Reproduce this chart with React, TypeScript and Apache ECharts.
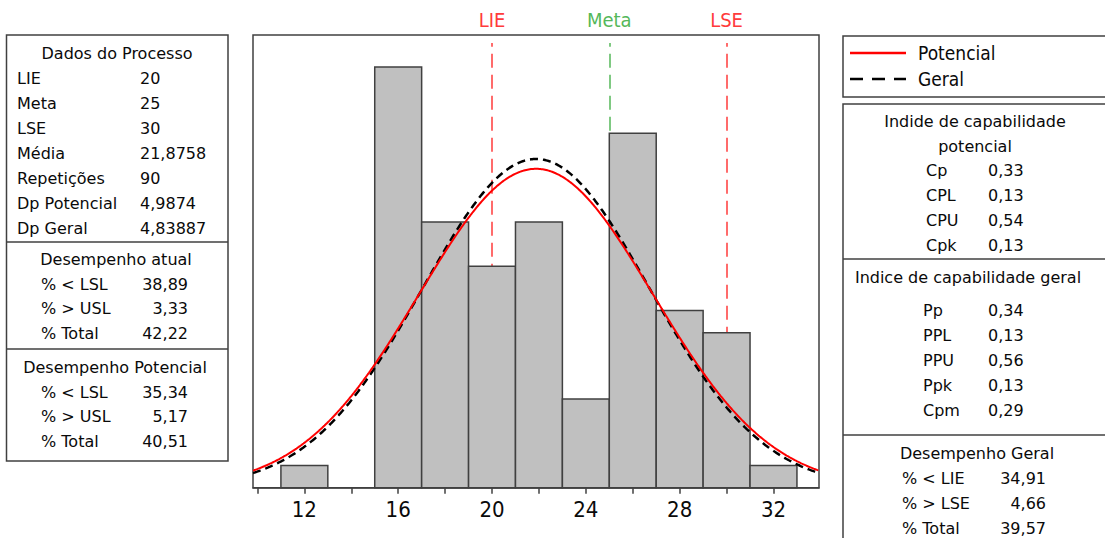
import React, { useEffect, useRef } from "react";
import * as echarts from "echarts";

// ---- data ----
const binStarts = [11, 13, 15, 17, 19, 21, 23, 25, 27, 29, 31];
const binWidth = 2;
const counts = [1, 0, 19, 12, 10, 12, 4, 16, 8, 7, 1];
const sampleSize = 90;
const mean = 21.8758;
const sdPotential = 4.9874;
const sdOverall = 4.83887;
const specLines = [
  { name: "LIE", value: 20, color: "#ff3b3b" },
  { name: "Meta", value: 25, color: "#55b85a" },
  { name: "LSE", value: 30, color: "#ff3b3b" },
];
const xTicks = [10, 12, 14, 16, 18, 20, 22, 24, 26, 28, 30, 32];
const xTickLabels = [12, 16, 20, 24, 28, 32];
const xMin = 9.81;
const xMax = 33.94;
const yMax = 20.44;
const specTop = 20.08;

const processRows = [
  ["LIE", "20"],
  ["Meta", "25"],
  ["LSE", "30"],
  ["Média", "21,8758"],
  ["Repetições", "90"],
  ["Dp Potencial", "4,9874"],
  ["Dp Geral", "4,83887"],
];
const atualRows = [
  ["% < LSL", "38,89"],
  ["% > USL", "3,33"],
  ["% Total", "42,22"],
];
const potencialRows = [
  ["% < LSL", "35,34"],
  ["% > USL", "5,17"],
  ["% Total", "40,51"],
];
const cpRows = [
  ["Cp", "0,33"],
  ["CPL", "0,13"],
  ["CPU", "0,54"],
  ["Cpk", "0,13"],
];
const ppRows = [
  ["Pp", "0,34"],
  ["PPL", "0,13"],
  ["PPU", "0,56"],
  ["Ppk", "0,13"],
  ["Cpm", "0,29"],
];
const geralRows = [
  ["% < LIE", "34,91"],
  ["% > LSE", "4,66"],
  ["% Total", "39,57"],
];

const TABLE_FONT = '16px "DejaVu Sans", Verdana, sans-serif';
const COND = '"DejaVu Sans Condensed", "DejaVu Sans", Tahoma, sans-serif';
const TXT = "#0a0a0a";
const BORDER = "#404040";

function normalCurve(sd: number) {
  const pts: number[][] = [];
  const scale = sampleSize * binWidth;
  for (let i = 0; ; i++) {
    const x = xMin + i * 0.05;
    if (x > xMax) break;
    const z = (x - mean) / sd;
    pts.push([x, (scale / (sd * Math.sqrt(2 * Math.PI))) * Math.exp(-0.5 * z * z)]);
  }
  return pts;
}

function txt(text: string, x: number, y: number, align: string = "left", font: string = TABLE_FONT, fill: string = TXT) {
  return {
    type: "text",
    z: 100,
    x,
    y,
    style: {
      text,
      font,
      fill,
      align,
      verticalAlign: "middle",
      textAlign: align,
      textVerticalAlign: "middle",
    },
  };
}
function hline(x1: number, x2: number, y: number) {
  return { type: "line", z: 100, shape: { x1, y1: y, x2, y2: y }, style: { stroke: BORDER, lineWidth: 1.5 } };
}
function box(x: number, y: number, w: number, h: number) {
  return { type: "rect", z: 100, shape: { x, y, width: w, height: h }, style: { fill: "none", stroke: BORDER, lineWidth: 1.5 } };
}

function buildGraphic() {
  const g: any[] = [];
  // left panel
  g.push(box(6.5, 35, 221.5, 426));
  g.push(hline(6.5, 228, 242));
  g.push(hline(6.5, 228, 349));
  g.push(txt("Dados do Processo", 117, 53, "center"));
  processRows.forEach((r, i) => {
    g.push(txt(r[0], 17, 78 + i * 25.1));
    g.push(txt(r[1], 140, 78 + i * 25.1));
  });
  g.push(txt("Desempenho atual", 116, 259, "center"));
  atualRows.forEach((r, i) => {
    g.push(txt(r[0], 41, 284 + i * 24.6));
    g.push(txt(r[1], 188, 284 + i * 24.6, "right"));
  });
  g.push(txt("Desempenho Potencial", 115, 367, "center"));
  potencialRows.forEach((r, i) => {
    g.push(txt(r[0], 41, 392 + i * 24.6));
    g.push(txt(r[1], 188, 392 + i * 24.6, "right"));
  });

  // right legend
  g.push(box(843, 36, 280, 61));
  g.push({ type: "line", z: 100, shape: { x1: 850, y1: 53, x2: 906, y2: 53 }, style: { stroke: "#ff0000", lineWidth: 2.5 } });
  g.push({ type: "line", z: 100, shape: { x1: 850, y1: 79, x2: 906, y2: 79 }, style: { stroke: "#000000", lineWidth: 2.5, lineDash: [13, 9] } });
  g.push(txt("Potencial", 918, 53, "left", "19px " + COND));
  g.push(txt("Geral", 918, 79, "left", "19px " + COND));

  // right tables
  g.push(box(843, 104, 280, 460));
  g.push(hline(843, 1110, 259));
  g.push(hline(843, 1110, 435));
  g.push(txt("Indide de capabilidade", 975, 121, "center"));
  g.push(txt("potencial", 975, 146, "center"));
  cpRows.forEach((r, i) => {
    g.push(txt(r[0], 926, 170 + i * 25.3));
    g.push(txt(r[1], 988, 170 + i * 25.3));
  });
  g.push(txt("Indice de capabilidade geral", 968, 277, "center"));
  ppRows.forEach((r, i) => {
    g.push(txt(r[0], 923, 310 + i * 25));
    g.push(txt(r[1], 988, 310 + i * 25));
  });
  g.push(txt("Desempenho Geral", 977, 453, "center"));
  geralRows.forEach((r, i) => {
    g.push(txt(r[0], 902, 478 + i * 25));
    g.push(txt(r[1], 1046, 478 + i * 25, "right"));
  });
  return g;
}

export default function App() {
  const ref = useRef<HTMLDivElement>(null);
  useEffect(() => {
    if (!ref.current) return;
    const chart = echarts.init(ref.current, undefined, { renderer: "svg" });
    const bars = binStarts
      .map((s, i) => [s, s + binWidth, counts[i]])
      .filter((d) => d[2] > 0);
    const option: any = {
      animation: false,
      backgroundColor: "#ffffff",
      grid: {
        left: 253,
        top: 35,
        width: 566,
        height: 452.7,
        show: true,
        borderColor: BORDER,
        borderWidth: 1.5,
        backgroundColor: "transparent",
      },
      xAxis: {
        type: "value",
        min: xMin,
        max: xMax,
        splitLine: { show: false },
        axisLine: { show: true, onZero: false, lineStyle: { color: BORDER, width: 1.5 } },
        axisTick: {
          show: true,
          length: 6,
          lineStyle: { color: BORDER, width: 1.5 },
          customValues: xTicks,
        },
        axisLabel: {
          show: true,
          customValues: xTickLabels,
          fontSize: 22,
          fontFamily: COND,
          color: TXT,
          margin: 11,
          showMinLabel: true,
          showMaxLabel: true,
        },
      },
      yAxis: {
        type: "value",
        min: 0,
        max: yMax,
        show: false,
        splitLine: { show: false },
      },
      series: [
        {
          type: "line",
          data: [],
          z: 1,
          silent: true,
          markLine: {
            silent: true,
            z: 1,
            symbol: ["none", "none"],
            animation: false,
            data: specLines.map((s) => [
              {
                coord: [s.value, 0],
                lineStyle: { color: s.color, type: [14, 7], width: 1.5 },
                label: {
                  show: true,
                  position: "end",
                  formatter: s.name,
                  color: s.color,
                  fontSize: 20,
                  fontFamily: COND,
                  distance: 13,
                },
              },
              { coord: [s.value, specTop] },
            ]),
          },
        },
        {
          type: "custom",
          z: 6,
          silent: true,
          data: bars,
          encode: { x: [0, 1], y: 2 },
          renderItem: (params: any, api: any) => {
            const p0 = api.coord([api.value(0), api.value(2)]);
            const p1 = api.coord([api.value(1), 0]);
            return {
              type: "rect",
              shape: { x: p0[0], y: p0[1], width: p1[0] - p0[0], height: p1[1] - p0[1] },
              style: { fill: "#c0c0c0", stroke: BORDER, lineWidth: 1.5 },
            };
          },
        },
        {
          name: "Geral",
          type: "line",
          z: 7,
          silent: true,
          showSymbol: false,
          data: normalCurve(sdOverall),
          lineStyle: { color: "#000000", width: 2.5, type: [8, 5] },
        },
        {
          name: "Potencial",
          type: "line",
          z: 8,
          silent: true,
          showSymbol: false,
          data: normalCurve(sdPotential),
          lineStyle: { color: "#ff0000", width: 2 },
        },
      ],
      graphic: buildGraphic(),
    };
    chart.setOption(option);
    return () => chart.dispose();
  }, []);
  return (
    <div
      ref={ref}
      style={{ position: "absolute", left: 0, top: 0, width: 1105, height: 538, background: "#fff" }}
    />
  );
}
